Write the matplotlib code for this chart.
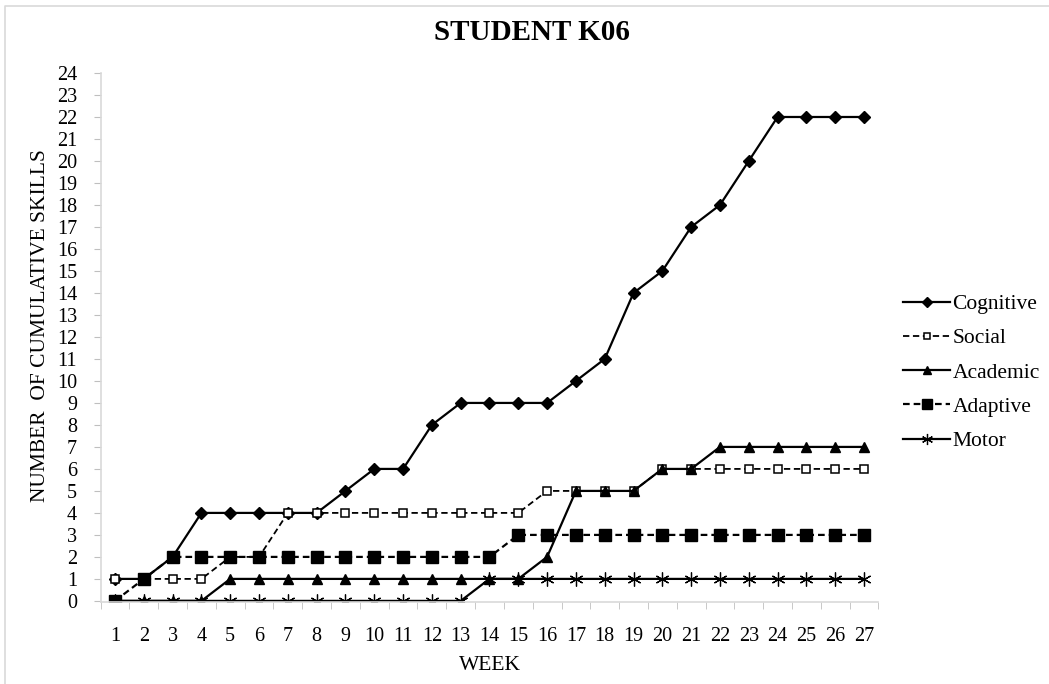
import matplotlib.pyplot as plt
from matplotlib.lines import Line2D

weeks = list(range(1, 28))
cognitive = [1, 1, 2, 4, 4, 4, 4, 4, 5, 6, 6, 8, 9, 9, 9, 9, 10, 11, 14, 15, 17, 18, 20, 22, 22, 22, 22]
social = [1, 1, 1, 1, 2, 2, 4, 4, 4, 4, 4, 4, 4, 4, 4, 5, 5, 5, 5, 6, 6, 6, 6, 6, 6, 6, 6]
academic = [0, 0, 0, 0, 1, 1, 1, 1, 1, 1, 1, 1, 1, 1, 1, 2, 5, 5, 5, 6, 6, 7, 7, 7, 7, 7, 7]
adaptive = [0, 1, 2, 2, 2, 2, 2, 2, 2, 2, 2, 2, 2, 2, 3, 3, 3, 3, 3, 3, 3, 3, 3, 3, 3, 3, 3]
motor = [0, 0, 0, 0, 0, 0, 0, 0, 0, 0, 0, 0, 0, 1, 1, 1, 1, 1, 1, 1, 1, 1, 1, 1, 1, 1, 1]

plt.rcParams['font.family'] = ['Liberation Serif', 'DejaVu Serif']

W, H = 1049, 684
fig = plt.figure(figsize=(W / 100, H / 100), dpi=100)
ax = fig.add_axes([100.6 / W, (H - 602) / H, 777.8 / W, 529 / H])

# light frame, only top and left edges show in the original
fig.lines.append(Line2D([5 / W, 5 / W, 1], [0, 1 - 6 / H, 1 - 6 / H],
                        transform=fig.transFigure, color='#d9d9d9', lw=1.2))

lw = 1.6
ax.plot(weeks, cognitive, '-', color='black', lw=lw, marker='D', ms=6,
        mfc='black', mec='black', label='Cognitive')
ax.plot(weeks, social, '--', color='black', lw=1.3, dashes=(3.5, 2), marker='s', ms=6,
        mfc='white', mec='black', mew=1.1, label='Social')
ax.plot(weeks, academic, '-', color='black', lw=lw, marker='^', ms=7.5,
        mfc='black', mec='black', label='Academic')
ax.plot(weeks, adaptive, '--', color='black', lw=lw, dashes=(3, 1.8), marker='s', ms=8.5,
        mfc='black', mec='black', label='Adaptive')
ax.plot(weeks, motor, '-', color='black', lw=lw, marker=(6, 2, 0), ms=10,
        mec='black', mew=0.9, label='Motor')

ax.set_xlim(0.5, 27.5)
ax.set_ylim(-0.05, 24)
ax.set_yticks(range(0, 25))
ax.set_xticks(weeks)
ax.set_xticks([w + 0.5 for w in range(0, 28)], minor=True)
ax.tick_params(axis='x', which='major', length=0, labelsize=14.5, pad=18)
ax.tick_params(axis='x', which='minor', length=5, color='#bfbfbf', direction='out')
ax.tick_params(axis='y', length=5, color='#bfbfbf', labelsize=14.5, pad=12)

for s in ['top', 'right']:
    ax.spines[s].set_visible(False)
for s in ['left', 'bottom']:
    ax.spines[s].set_color('#d9d9d9')
    ax.spines[s].set_linewidth(1.2)

fig.text(489.5 / W, 1 - 665 / H, 'WEEK', ha='center', va='center', fontsize=15.5)
fig.text(41 / W, 1 - 326 / H, 'NUMBER  OF CUMULATIVE SKILLS', ha='center',
         va='center', rotation=90, fontsize=15.5)
fig.text(532 / W, 1 - 33 / H, 'STUDENT K06', ha='center', va='center',
         fontsize=21, fontweight='bold')

ax.legend(loc='upper left', bbox_to_anchor=(903 / W, 1 - 294 / H),
          bbox_transform=fig.transFigure, frameon=False, fontsize=15.5,
          handlelength=2.2, handletextpad=0.1, labelspacing=0.66,
          borderaxespad=0, borderpad=0, markerscale=0.8)

fig.savefig('out.png', dpi=100)
